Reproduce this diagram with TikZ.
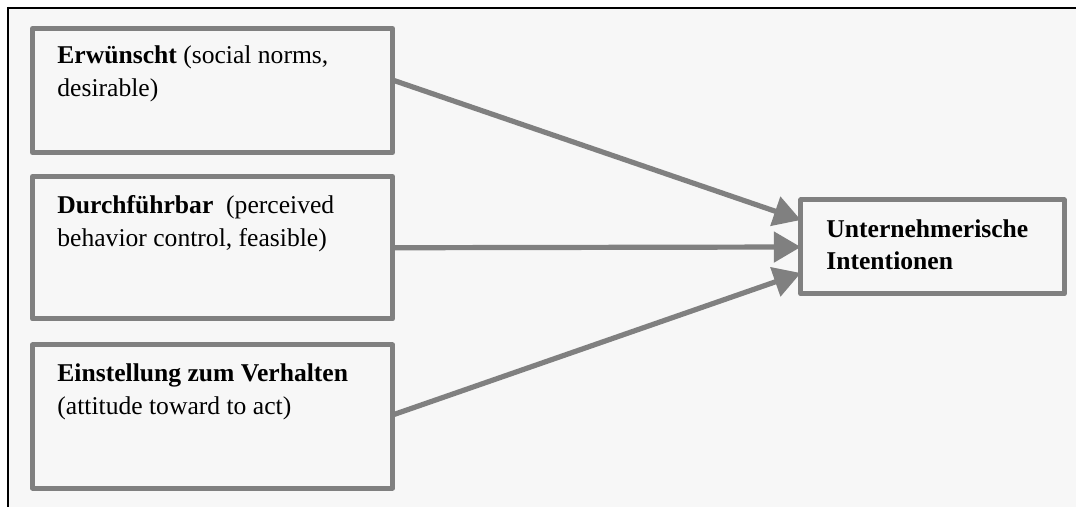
\documentclass[tikz,border=0pt]{standalone}
\usepackage{fontspec}
\setmainfont{Liberation Serif}
\usepackage{xcolor}
\usetikzlibrary{arrows.meta,positioning}
\definecolor{boxgray}{HTML}{808080}
\definecolor{paper}{HTML}{F7F7F7}

\begin{document}
\begin{tikzpicture}[x=0.5pt,y=-0.5pt]
        \tikzset{factor/.style={draw=boxgray,line width=2.5pt,line join=round,rectangle,
                minimum width=180pt,inner sep=0pt,outer sep=0pt},
            boxtext/.style={anchor=base west,inner sep=0pt,align=left,
                font=\fontsize{12.8}{16.6}\selectfont},
            link/.style={draw=boxgray,line width=2.6pt,
                -{Triangle[length=13.5pt,width=15pt]}}}
        \useasboundingbox (0,0) rectangle (1076,507);
        \fill[white] (0,0) rectangle (1076,507);
        \fill[paper] (7,7) rectangle (1076,507);
        \draw[line width=1pt] (7,7.8) -- (1076,7.8);
        \draw[line width=0.85pt] (8.2,7) -- (8.2,507);
        % factors on the left
        \node[factor,minimum height=62pt] (erw) at (212.5,90.5) {};
        \node[factor,minimum height=71.25pt] (durch) at (212.5,247.75) {};
        \node[factor,minimum height=71.5pt] (einst) at (212.5,416.5) {};
        % target
        \node[factor,minimum width=131.6pt,minimum height=47pt] (ziel) at (932.4,247) {};
        % base of a two-line node is the baseline of its last line
        \node[boxtext] (erwtext) at ([xshift=12.25pt,yshift=-34.1pt]erw.north west)
            {\textbf{Erwünscht} (social norms,\\desirable)};
        \node[boxtext] (durchtext) at ([xshift=12.25pt,yshift=-35.1pt]durch.north west)
            {\textbf{Durchführbar}\ \ (perceived\\behavior control, feasible)};
        \node[boxtext] (einsttext) at ([xshift=12.25pt,yshift=-35pt]einst.north west)
            {\textbf{Einstellung zum Verhalten}\\(attitude toward to act)};
        \node[boxtext,font=\fontsize{12.8}{16.4}\selectfont\bfseries] (zieltext)
            at ([xshift=12.6pt,yshift=-35pt]ziel.north west)
            {Unternehmerische\\Intentionen};
        \draw[link] ([yshift=5.25pt]erw.east) -- ([yshift=13.5pt]ziel.west);
        \draw[link] (durch.east) -- (ziel.west);
        \draw[link] ([yshift=0.75pt]einst.east) -- ([yshift=-13pt]ziel.west);
    \end{tikzpicture}
\end{document}
